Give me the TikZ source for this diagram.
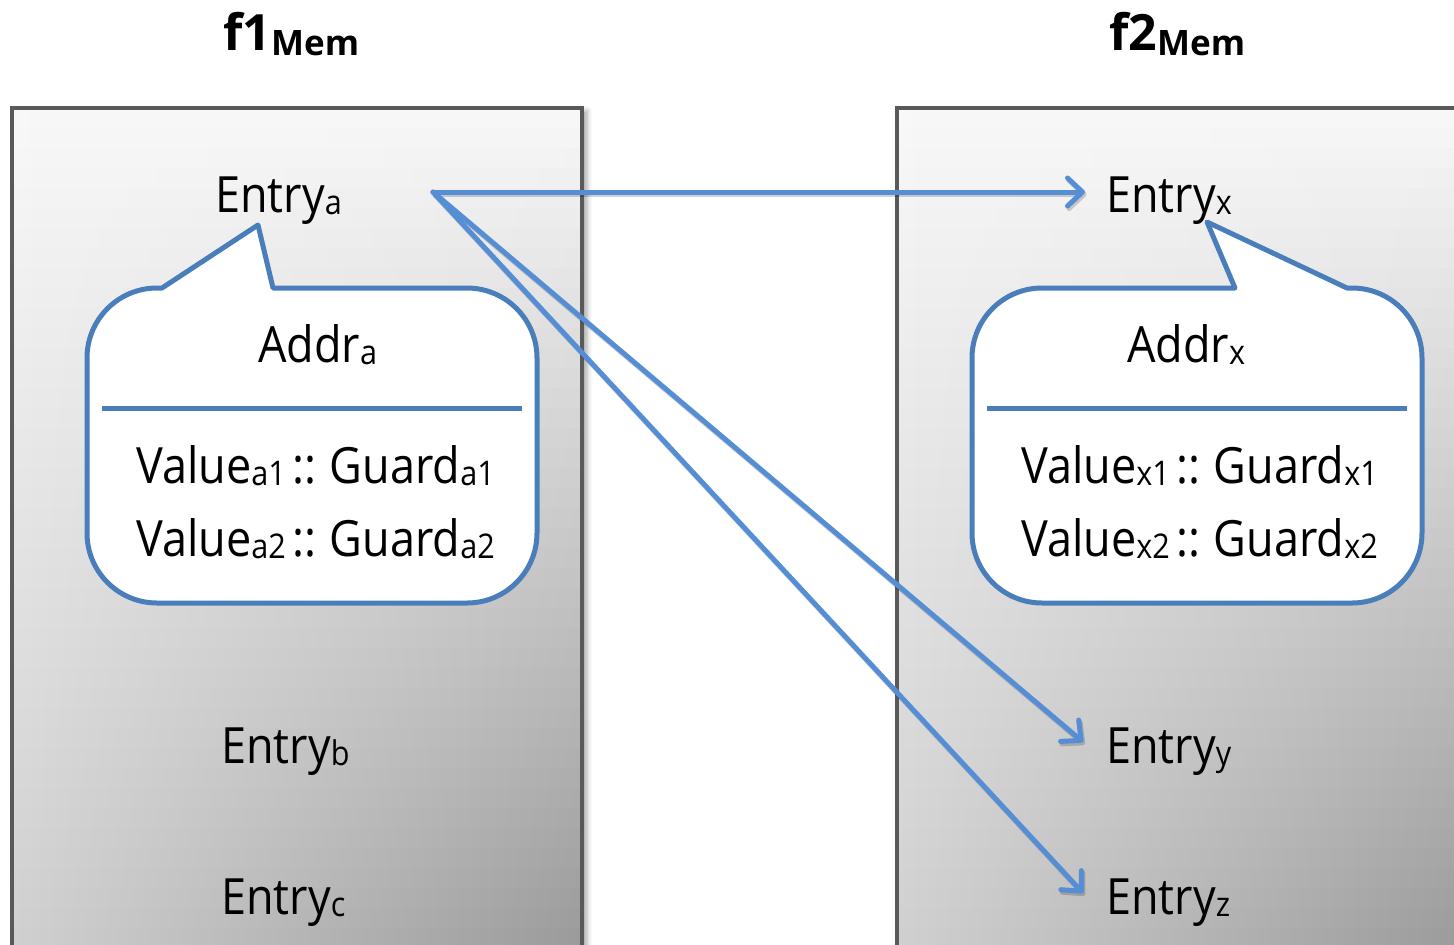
\documentclass[tikz,border=0pt]{standalone}
\usepackage{fontspec}
\setmainfont{Open Sans}[FakeStretch=0.9]
\newfontfamily\titlefont{Open Sans}
\usetikzlibrary{arrows.meta,shadows.blur}
\definecolor{frame}{HTML}{595959}
\definecolor{callblue}{HTML}{4A7EBB}
\definecolor{arrowblue}{HTML}{558ED5}
% lowered, smaller index text
\newcommand\subtxt[1]{\raisebox{-2pt}{\fontsize{34}{34}\selectfont #1}}
\newcommand\gap{\hspace{7pt}::\hspace{13pt}}
% gradient fill of a frame: horizontal strips whose left and right greys darken downwards
\newcommand\framefill[2]{% #1 = left x, #2 = right x
  \foreach \i in {0,...,43}{%
    \pgfmathsetmacro\pl{(7+0.048*(\i*20+10))/2.55}%
    \pgfmathsetmacro\pr{(7+0.112*(\i*20+10))/2.55}%
    \path[left color=black!\pl, right color=black!\pr]
      (#1,108+\i*20) rectangle (#2,129+\i*20);
  }}
\begin{document}
\begin{tikzpicture}[x=1pt,y=-1pt,
  boxshadow/.style={fill=white,
    blur shadow={shadow xshift=5pt, shadow yshift=-3pt, shadow blur radius=5pt, shadow opacity=35}},
  boxline/.style={draw=frame, line width=4pt},
  callout/.style={draw=callblue, line width=5pt, fill=white, line join=round},
  divider/.style={draw=callblue, line width=5pt},
  lbl/.style={inner sep=0pt, font=\fontsize{50}{60}\selectfont, anchor=base west},
  title/.style={inner sep=0pt, font=\titlefont\fontsize{50}{60}\selectfont\bfseries, anchor=base west},
  link/.style={draw=arrowblue, line width=5pt, line cap=round,
    -{Straight Barb[length=15pt, width=28pt, round]},
    preaction={draw=black, opacity=0.18, line width=5pt, transform canvas={shift={(1.5pt,-2.5pt)}}}}]
\useasboundingbox (0,0) rectangle (1454,945);
\clip (0,0) rectangle (1454,945);

% memory frames
\path[boxshadow] (12,108) rectangle (582,990);
\framefill{12}{582}
\draw[boxline] (12,108) rectangle (582,990);

\path[boxshadow] (897,108) rectangle (1467,990);
\framefill{897}{1467}
\draw[boxline] (897,108) rectangle (1467,990);

% frame titles
\node[title] (t1) at (223,50) {f1\raisebox{-5pt}{\fontsize{35}{35}\selectfont Mem}};
\node[title] (t2) at (1109,50) {f2\raisebox{-5pt}{\fontsize{35}{35}\selectfont Mem}};

% callout of f1
\draw[callout] (162,288) -- (258,225) -- (273,288) -- (467,288)
  arc[start angle=270, end angle=360, radius=70] -- (537,533)
  arc[start angle=0, end angle=90, radius=70] -- (157,603)
  arc[start angle=90, end angle=180, radius=70] -- (87,358)
  arc[start angle=180, end angle=270, radius=70] -- cycle;
\draw[divider] (102,408) -- (522,408);

% callout of f2
\draw[callout] (1207,222) -- (1347,288) -- (1352,288)
  arc[start angle=270, end angle=360, radius=70] -- (1422,533)
  arc[start angle=0, end angle=90, radius=70] -- (1042,603)
  arc[start angle=90, end angle=180, radius=70] -- (972,358)
  arc[start angle=180, end angle=270, radius=70] -- (1235,288) -- cycle;
\draw[divider] (987,408) -- (1407,408);

% entries of f1
\node[lbl] (ea) at (215,212) {Entry\subtxt{a}};
\node[lbl] (aa) at (258,362) {Addr\subtxt{a}};
\node[lbl] (va1) at (136,483) {Value\subtxt{a1}\gap Guard\subtxt{a1}};
\node[lbl] (va2) at (136,556) {Value\subtxt{a2}\gap Guard\subtxt{a2}};
\node[lbl] (eb) at (221,763) {Entry\subtxt{b}};
\node[lbl] (ec) at (221,914) {Entry\subtxt{c}};

% entries of f2
\node[lbl] (ex) at (1106,212) {Entry\subtxt{x}};
\node[lbl] (ax) at (1127,362) {Addr\subtxt{x}};
\node[lbl] (vx1) at (1021,483) {Value\subtxt{x1}\gap Guard\subtxt{x1}};
\node[lbl] (vx2) at (1021,556) {Value\subtxt{x2}\gap Guard\subtxt{x2}};
\node[lbl] (ey) at (1106,763) {Entry\subtxt{y}};
\node[lbl] (ez) at (1106,914) {Entry\subtxt{z}};

% links from Entry a
\coordinate (src) at ([shift={(91,-20)}]ea.base east);
\coordinate (tx) at ([shift={(-21,-20)}]ex.base west);
\coordinate (ty) at ([shift={(-23,-21)}]ey.base west);
\coordinate (tz) at ([shift={(-23,-21)}]ez.base west);
\draw[link] (src) -- (tx);
\draw[link] (src) -- (ty);
\draw[link] (src) -- (tz);
\end{tikzpicture}
\end{document}
